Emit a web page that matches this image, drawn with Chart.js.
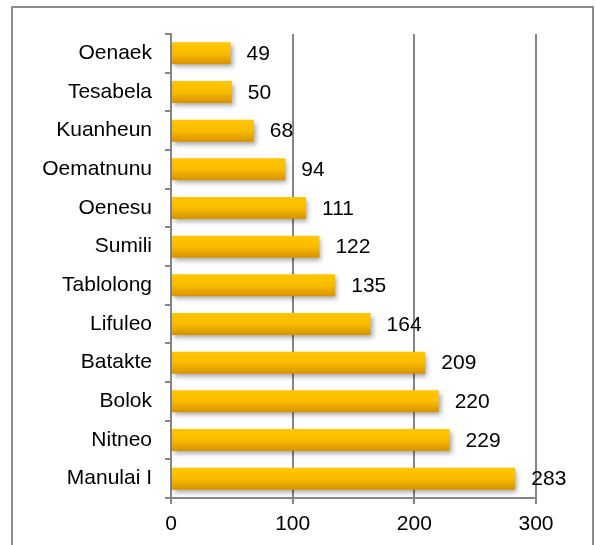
<!DOCTYPE html>
<html>
<head>
<meta charset="utf-8">
<script src="https://cdn.jsdelivr.net/npm/chart.js@4.4.0/dist/chart.umd.min.js"></script>
<style>
  body { margin: 0; background: #fff; }
  canvas { display: block; }
</style>
</head>
<body>
<canvas id="chart" width="596" height="545"></canvas>
<script>
const places = ['Oenaek', 'Tesabela', 'Kuanheun', 'Oematnunu', 'Oenesu', 'Sumili',
    'Tablolong', 'Lifuleo', 'Batakte', 'Bolok', 'Nitneo', 'Manulai I']
const counts = [49, 50, 68, 94, 111, 122, 135, 164, 209, 220, 229, 283]
const xTicks = [0, 100, 200, 300]

Chart.defaults.font.family = '"Liberation Sans", Arial, sans-serif'
Chart.defaults.font.size = 21
Chart.defaults.color = '#000'

function barFill(context) {
    const chart = context.chart
    if (!chart.chartArea) return '#F5B400'
    const yc = chart.scales.y.getPixelForValue(context.dataIndex)
    const g = chart.ctx.createLinearGradient(0, yc - 11, 0, yc + 11)
    g.addColorStop(0, '#FFC600')
    g.addColorStop(0.5, '#F9BC00')
    g.addColorStop(1, '#D89200')
    return g
}

const framePlugin = {
    id: 'frame',
    beforeDraw(chart) {
        const ctx = chart.ctx
        ctx.save()
        ctx.fillStyle = '#fff'
        ctx.fillRect(0, 0, chart.width, chart.height)
        ctx.strokeStyle = '#8c8c8c'
        ctx.lineWidth = 2
        ctx.strokeRect(12, 7, 581, 600)
        ctx.restore()
    }
}

const shadowPlugin = {
    id: 'barShadow',
    beforeDatasetsDraw(chart) {
        const ctx = chart.ctx
        ctx.save()
        ctx.shadowColor = 'rgba(0,0,0,0.35)'
        ctx.shadowBlur = 5
        ctx.shadowOffsetX = 2
        ctx.shadowOffsetY = 3
    },
    afterDatasetsDraw(chart) {
        const ctx = chart.ctx
        ctx.restore()
        ctx.save()
        ctx.font = '21px "Liberation Sans", Arial, sans-serif'
        ctx.fillStyle = '#000'
        ctx.textAlign = 'left'
        ctx.textBaseline = 'middle'
        chart.getDatasetMeta(0).data.forEach((bar, i) => {
            ctx.fillText(counts[i], bar.x + 16, bar.y + 1)
        })
        ctx.restore()
    }
}

const data = {
    labels: places,
    datasets: [{
        data: counts,
        backgroundColor: barFill,
        borderWidth: 0,
        barPercentage: 0.57,
        categoryPercentage: 1
    }]
}

const config = {
    type: 'bar',
    data: data,
    options: {
        indexAxis: 'y',
        responsive: false,
        animation: false,
        layout: { padding: { left: 0, top: 34, right: 60, bottom: 0 } },
        plugins: { legend: { display: false }, tooltip: { enabled: false } },
        scales: {
            x: {
                min: 0,
                max: 300,
                afterBuildTicks(scale) {
                    scale.ticks = xTicks.map(v => ({ value: v }))
                },
                afterFit(scale) { scale.height = 47 },
                grid: { color: '#858585', lineWidth: 2, tickLength: 6 },
                border: { color: '#858585', width: 2 },
                ticks: { padding: 8 }
            },
            y: {
                afterFit(scale) { scale.width = 171 },
                grid: { drawOnChartArea: false, color: '#858585', lineWidth: 2, tickLength: 6 },
                border: { color: '#858585', width: 2 },
                ticks: { padding: 13 }
            }
        }
    },
    plugins: [framePlugin, shadowPlugin]
}

let ctx = document.getElementById('chart').getContext('2d')
new Chart(ctx, config)
</script>
</body>
</html>
